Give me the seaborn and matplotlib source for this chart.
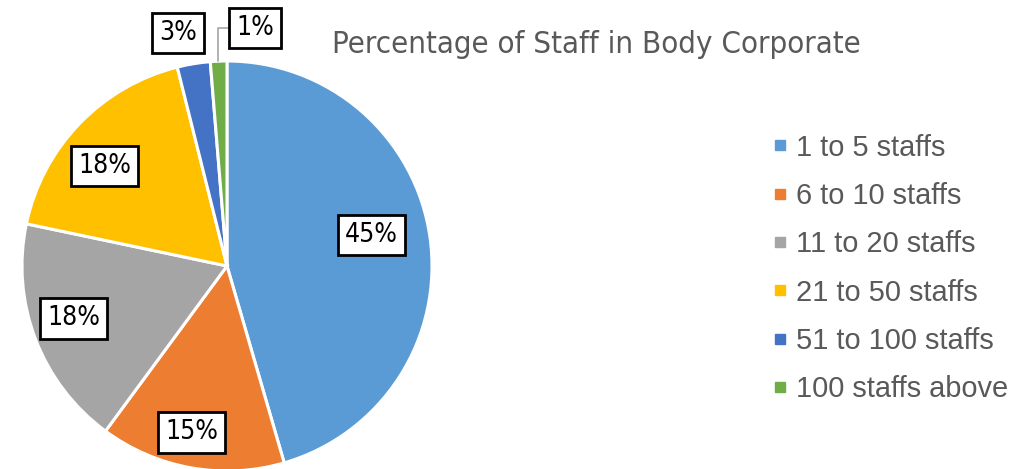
import numpy as np
import matplotlib
matplotlib.use("Agg")
import matplotlib.pyplot as plt
from matplotlib.lines import Line2D
import seaborn as sns

# ---- data ----
categories = ["1 to 5 staffs", "6 to 10 staffs", "11 to 20 staffs",
              "21 to 50 staffs", "51 to 100 staffs", "100 staffs above"]
values = [45.5, 14.6, 18.2, 17.8, 2.6, 1.3]
labels = ["45%", "15%", "18%", "18%", "3%", "1%"]
colors = ["#5B9BD5", "#ED7D31", "#A5A5A5", "#FFC000", "#4472C4", "#70AD47"]
title = "Percentage of Staff in Body Corporate"

# label placement style: radius (in pie radii) and angular offset (deg)
label_r = [0.72, 0.83, 0.79, 0.77, 1.16, 1.168]
label_dtheta = [4, -2, -2, 4.6, 2.5, -9]

sns.set_theme(style="white")
plt.rcParams["font.family"] = ["DejaVu Sans"]

fig = plt.figure(figsize=(10.27, 4.69), dpi=100)
ax = fig.add_axes([22 / 1027, -2 / 469, 410 / 1027, 410 / 469])
wedges, _ = ax.pie(values, colors=colors, startangle=90, counterclock=False,
                   radius=1, wedgeprops=dict(edgecolor="white", linewidth=2.2))
ax.set_xlim(-1, 1)
ax.set_ylim(-1, 1)
ax.set_aspect("equal")
ax.axis("off")

box = dict(boxstyle="square,pad=0.27", facecolor="white", edgecolor="black", linewidth=2)
lab_font = dict(fontsize=19, color="black", fontstretch="condensed", family="DejaVu Sans")
for w, lab, r, dt in zip(wedges, labels, label_r, label_dtheta):
    mid = np.deg2rad((w.theta1 + w.theta2) / 2 + dt)
    x, y = r * np.cos(mid), r * np.sin(mid)
    if lab == "1%":
        ex, ey = -0.045, np.sqrt(1 - 0.045 ** 2)
        ax.annotate(lab, xy=(ex, ey), xytext=(x, y), ha="center", va="center",
                    bbox=box, annotation_clip=False,
                    arrowprops=dict(arrowstyle="-", color="#A6A6A6", lw=1.2,
                                    connectionstyle="angle,angleA=0,angleB=90,rad=0",
                                    shrinkA=0, shrinkB=0),
                    **lab_font)
    else:
        ax.text(x, y, lab, ha="center", va="center", bbox=box, clip_on=False, **lab_font)

fig.text(332 / 1027, 1 - 53 / 469, title, ha="left", va="baseline", fontsize=22.4,
         color="#595959", fontstretch="condensed", family="DejaVu Sans", fontweight="light")

handles = [Line2D([0], [0], marker="s", linestyle="none", markersize=7,
                  markerfacecolor=c, markeredgecolor=c) for c in colors]
leg = fig.legend(handles, categories, loc="upper left",
                 bbox_to_anchor=(760 / 1027, 1 - 122 / 469), frameon=False,
                 prop=dict(family="Liberation Sans", size=20.9),
                 labelcolor="#595959", handlelength=0.6, handletextpad=0.24,
                 labelspacing=0.70, borderaxespad=0)

fig.savefig("out.png", dpi=100)
